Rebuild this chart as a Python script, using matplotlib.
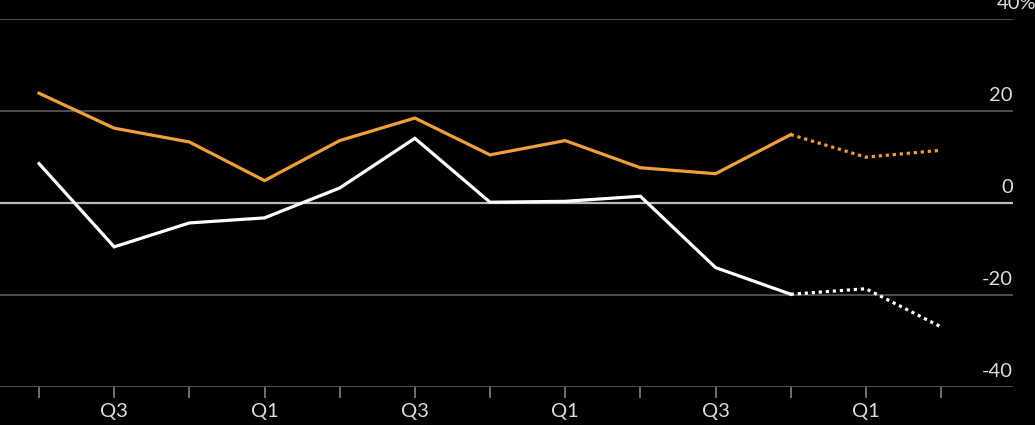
import matplotlib
matplotlib.use("Agg")
import matplotlib.pyplot as plt

# quarterly values, last two points are estimates (dotted)
quarters = ["Q2", "Q3", "Q4", "Q1", "Q2", "Q3", "Q4", "Q1", "Q2", "Q3", "Q4", "Q1", "Q2"]
orange_vals = [23.8, 16.2, 13.2, 4.8, 13.5, 18.4, 10.4, 13.5, 7.6, 6.3, 14.8, 9.9, 11.4]
white_vals = [8.5, -9.6, -4.4, -3.3, 3.2, 14.0, 0.1, 0.3, 1.4, -14.1, -19.9, -18.7, -27.0]
n_actual = 11
y_levels = [40, 20, 0, -20, -40]
y_labels = ["40%", "20", "0", "-20", "-40"]

ORANGE = "#F0A03A"
WHITE = "#FFFFFF"
GRID = "#555555"
TEXT = "#DDDDDD"

plt.rcParams["font.family"] = ["Lato", "DejaVu Sans"]

fig = plt.figure(figsize=(10.35, 4.25), dpi=100, facecolor="black")
ax = fig.add_axes([0, 0.0901, 1013 / 1035, 0.956 - 0.0901])
ax.set_facecolor("black")

x = list(range(len(quarters)))

for vals, color in [(orange_vals, ORANGE), (white_vals, WHITE)]:
    ax.plot(x[:n_actual], vals[:n_actual], color=color, lw=2.3,
            solid_joinstyle="miter", zorder=3)
    ax.plot(x[n_actual - 1:], vals[n_actual - 1:], color=color, lw=2.3,
            linestyle=(0, (1, 1.2)), zorder=3)

for lvl, lab in zip(y_levels, y_labels):
    if lvl == 0:
        ax.axhline(lvl, color="#BBBBBB", lw=1.6, zorder=2)
    else:
        ax.axhline(lvl, color=GRID, lw=1.3, zorder=1)
    if lab.endswith("%"):
        ax.annotate(lab, xy=(1, lvl), xycoords=("axes fraction", "data"),
                    xytext=(-12, 7.2), textcoords="offset points",
                    ha="left", va="baseline", color=TEXT, fontsize=14.5,
                    annotation_clip=False)
    else:
        ax.annotate(lab, xy=(1, lvl), xycoords=("axes fraction", "data"),
                    xytext=(0, 7.2), textcoords="offset points",
                    ha="right", va="baseline", color=TEXT, fontsize=14.5)

ax.set_xlim(-0.519, 12.957)
ax.set_ylim(-40, 40)

ax.set_xticks(x)
ax.set_xticklabels([q if q in ("Q1", "Q3") else "" for q in quarters])
ax.tick_params(axis="x", direction="out", length=8, width=1.3, color="#777777",
               labelcolor=TEXT, labelsize=14.5, pad=4)
ax.set_yticks([])

for side in ["top", "right", "left", "bottom"]:
    ax.spines[side].set_visible(False)

fig.savefig("out.png", dpi=100, facecolor="black")
